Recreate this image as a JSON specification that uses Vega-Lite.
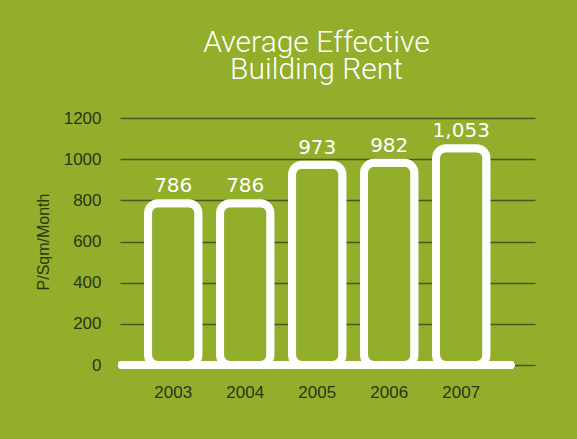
{
  "$schema": "https://vega.github.io/schema/vega-lite/v6.json",
  "width": 415,
  "height": 247,
  "autosize": {"type": "none"},
  "padding": {"left": 120, "top": 118, "right": 42, "bottom": 74},
  "background": "#92ae2a",
  "title": {
    "text": ["Average Effective", "Building Rent"],
    "font": "Roboto",
    "fontSize": 30,
    "fontWeight": 300,
    "color": "white",
    "lineHeight": 27,
    "anchor": "middle",
    "dx": -11,
    "offset": 24
  },
  "config": {
    "view": {"stroke": null},
    "axis": {
      "labelFont": "Liberation Sans",
      "titleFont": "Liberation Sans",
      "labelColor": "#2e3415",
      "titleColor": "#2e3415",
      "domain": false,
      "ticks": false
    }
  },
  "data": {
    "values": [
      {"year": "2003", "rent": 786},
      {"year": "2004", "rent": 786},
      {"year": "2005", "rent": 973},
      {"year": "2006", "rent": 982},
      {"year": "2007", "rent": 1053}
    ]
  },
  "encoding": {
    "x": {
      "field": "year",
      "type": "ordinal",
      "scale": {"paddingInner": 0.3, "paddingOuter": 0.532, "align": 0.366},
      "axis": {"title": null, "labelAngle": 0, "labelFontSize": 17, "labelPadding": 19, "grid": false}
    }
  },
  "layer": [
    {
      "mark": {"type": "rule", "color": "white", "strokeWidth": 8, "strokeCap": "round", "xOffset": -26, "x2Offset": 24},
      "encoding": {
        "x": {"datum": "2003", "bandPosition": 0},
        "x2": {"datum": "2007", "bandPosition": 1},
        "y": {"datum": 0, "type": "quantitative"}
      }
    },
    {
      "mark": {"type": "bar", "fill": "#92ae2a", "stroke": "white", "strokeWidth": 8, "cornerRadius": 10},
      "encoding": {
        "y": {
          "field": "rent",
          "type": "quantitative",
          "scale": {"domain": [0, 1200]},
          "axis": {
            "title": "P/Sqm/Month",
            "titleFontSize": 16,
            "titleFontWeight": "normal",
            "titlePadding": 12,
            "labelFontSize": 17,
            "labelPadding": 19,
            "labelOverlap": false,
            "format": "d",
            "values": [0, 200, 400, 600, 800, 1000, 1200],
            "grid": true,
            "gridColor": "#4b5620",
            "gridWidth": 1.5
          }
        }
      }
    },
    {
      "mark": {"type": "text", "color": "white", "font": "DejaVu Sans", "fontSize": 20, "baseline": "bottom", "dy": -7},
      "encoding": {
        "y": {"field": "rent", "type": "quantitative"},
        "text": {"field": "rent", "type": "quantitative", "format": ","}
      }
    }
  ]
}
